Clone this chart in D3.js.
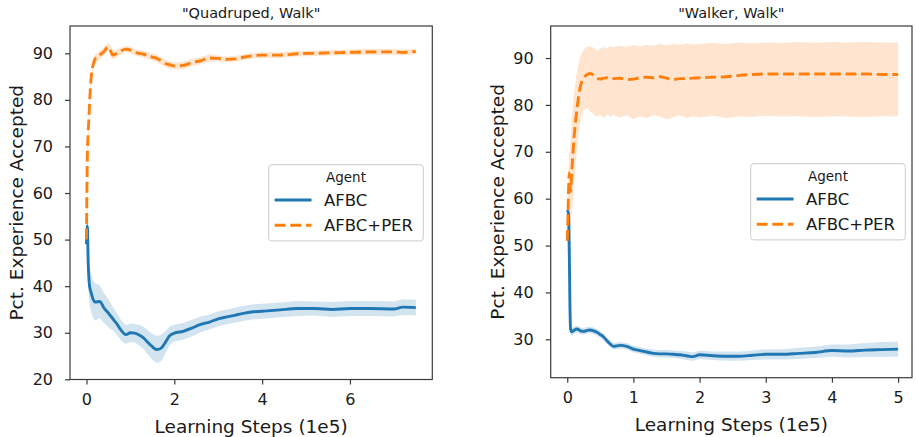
<!DOCTYPE html>
<html>
<head>
<meta charset="utf-8">
<script src="https://cdn.jsdelivr.net/npm/d3@7"></script>
<style>
  html, body { margin: 0; padding: 0; background: #fff; }
  svg { display: block; font-family: "DejaVu Sans", sans-serif; }
</style>
</head>
<body>
<svg id="chart" width="916" height="437"></svg>
<script>
// ---------------- DATA ----------------
const seriesNames = ["AFBC", "AFBC+PER"];
const legendTitle = "Agent";
const panelTitles = ['"Quadruped, Walk"', '"Walker, Walk"'];
const xLabel = "Learning Steps (1e5)";
const yLabel = "Pct. Experience Accepted";

// Quadruped, Walk
const quadX = [0, 0.02, 0.04, 0.06, 0.08, 0.1, 0.15, 0.2, 0.3, 0.4, 0.5, 0.55, 0.6, 0.7, 0.8, 0.9,
  1.0, 1.1, 1.2, 1.3, 1.4, 1.5, 1.6, 1.7, 1.8, 1.9, 2.0, 2.2, 2.4, 2.6, 2.8, 3.0, 3.2, 3.4, 3.6,
  3.8, 4.0, 4.4, 4.8, 5.2, 5.6, 6.0, 6.5, 7.0, 7.2, 7.5];
const quadAFBC = [49, 53, 45, 41, 39.5, 38.8, 37.2, 36.6, 36.7, 35.3, 34.2, 33.6, 33.0, 31.8, 30.4, 29.6,
  30.0, 29.9, 29.5, 28.9, 27.9, 27.0, 26.4, 26.7, 28.0, 29.4, 29.9, 30.3, 31.0, 31.8, 32.3, 33.0, 33.4, 33.8, 34.2,
  34.5, 34.6, 34.9, 35.2, 35.2, 35.0, 35.2, 35.2, 35.1, 35.5, 35.4];
const quadAFBCSpread = [4, 4, 4, 4, 4, 4, 4, 4, 3.5, 3.2, 3.0, 2.8, 2.5, 2.3, 2.2, 2.0,
  2.0, 2.0, 2.2, 2.4, 2.6, 2.8, 2.9, 2.8, 2.4, 2.0, 1.8, 1.8, 1.8, 1.7, 1.6, 1.6, 1.6, 1.6, 1.6,
  1.6, 1.6, 1.6, 1.6, 1.5, 1.6, 1.6, 1.6, 1.6, 1.7, 1.7];
const quadPER = [50, 68, 73, 77, 81, 84, 87.5, 88.8, 89.6, 90.4, 91.4, 90.5, 89.6, 90.0, 90.6, 90.9,
  90.7, 90.2, 90.0, 89.8, 89.5, 89.2, 88.9, 88.4, 87.8, 87.5, 87.3, 87.4, 88.0, 88.4, 89.0, 88.9, 88.7, 88.8, 89.2,
  89.5, 89.6, 89.6, 89.9, 90.0, 90.1, 90.2, 90.3, 90.3, 90.2, 90.4];
const quadPERSpread = [3, 3, 2.5, 2, 1.5, 1.2, 1.0, 1.0, 0.9, 0.9, 0.9, 1.2, 1.0, 0.8, 0.7, 0.7,
  0.7, 0.7, 0.7, 0.7, 0.7, 0.8, 0.8, 0.8, 0.8, 0.8, 0.8, 0.8, 0.8, 0.8, 0.8, 0.6, 0.6, 0.6, 0.6,
  0.6, 0.6, 0.6, 0.6, 0.6, 0.6, 0.6, 0.6, 0.6, 0.6, 0.6];

// Walker, Walk
const walkX = [0, 0.01, 0.02, 0.03, 0.04, 0.05, 0.07, 0.1, 0.15, 0.2, 0.25, 0.3, 0.35, 0.4, 0.45, 0.5,
  0.55, 0.6, 0.65, 0.7, 0.8, 0.9, 1.0, 1.1, 1.2, 1.3, 1.4, 1.5, 1.6, 1.7, 1.8, 1.9, 2.0, 2.2, 2.4,
  2.6, 2.8, 3.0, 3.25, 3.5, 3.75, 4.0, 4.25, 4.5, 4.75, 5.0];
const walkAFBC = [57.2, 57.4, 56.5, 50, 38, 32.2, 31.6, 31.9, 32.2, 31.8, 31.7, 31.9, 32.0, 31.8, 31.5, 31.0,
  30.5, 29.7, 29.0, 28.5, 28.7, 28.5, 27.9, 27.6, 27.3, 27.0, 26.9, 26.9, 26.8, 26.7, 26.5, 26.3, 26.7, 26.5, 26.4,
  26.4, 26.6, 26.8, 26.8, 27.0, 27.2, 27.6, 27.5, 27.7, 27.8, 27.9];
const walkAFBCSpread = [1.2, 1.2, 1.5, 2.5, 2.5, 1.2, 0.8, 0.7, 0.7, 0.7, 0.7, 0.7, 0.7, 0.7, 0.7, 0.7,
  0.7, 0.7, 0.7, 0.7, 0.7, 0.7, 0.7, 0.7, 0.7, 0.8, 0.8, 0.8, 0.8, 0.8, 0.9, 0.9, 0.9, 0.9, 1.0,
  1.0, 1.0, 1.1, 1.1, 1.2, 1.2, 1.3, 1.4, 1.5, 1.6, 1.6];
const walkPER = [51, 56, 62, 65.5, 63, 61.5, 66, 72.5, 79.5, 84, 85.7, 86.5, 86.7, 86.3, 85.7, 85.5,
  85.7, 85.8, 85.7, 85.6, 85.7, 85.4, 85.5, 85.8, 85.9, 85.8, 86.0, 85.7, 85.4, 85.6, 85.6, 85.7, 85.8, 85.9, 86.0,
  86.3, 86.5, 86.6, 86.6, 86.6, 86.6, 86.6, 86.6, 86.6, 86.5, 86.5];
const walkPERUpper = [60, 62, 67, 70, 70, 72, 77, 82, 87.5, 90.5, 91.8, 92.4, 92.5, 92.2, 91.5, 92.0,
  92.3, 92.1, 92.5, 92.3, 92.6, 92.4, 92.7, 92.5, 92.8, 92.6, 93.0, 92.7, 93.0, 92.8, 93.1, 92.9, 93.0, 93.2, 93.0,
  93.3, 93.1, 93.3, 93.2, 93.4, 93.2, 93.4, 93.3, 93.4, 93.3, 93.3];
const walkPERLower = [47, 50, 55, 58, 56, 54, 57, 63, 71, 77, 78.9, 79.3, 78.5, 78.0, 77.5, 77.8,
  77.2, 78.0, 77.4, 77.9, 77.3, 77.8, 77.0, 77.6, 77.2, 77.8, 77.5, 76.9, 77.4, 77.8, 77.2, 77.6, 77.3, 77.7, 77.2,
  77.6, 77.4, 77.7, 77.5, 77.6, 77.4, 77.6, 77.5, 77.4, 77.6, 77.5];

const quadXTicks = [0, 2, 4, 6];
const walkXTicks = [0, 1, 2, 3, 4, 5];
const quadYTicks = [20, 30, 40, 50, 60, 70, 80, 90];
const walkYTicks = [30, 40, 50, 60, 70, 80, 90];

// ---------------- STYLE ----------------
const colors = ["#1f77b4", "#ff7f0e"];
const lineWidth = 2.9;
const dash = "10.9,4.7";
const textColor = "#1a1a1a";
const spineColor = "#3a3a3a";

const panels = [
  {
    title: panelTitles[0],
    box: { x0: 70, x1: 432.3, y0: 26, y1: 379.5 },
    xDomain: [-0.375, 7.875], yDomain: [19.96, 95.86],
    xTicks: quadXTicks, yTicks: quadYTicks,
    yLabelX: 16.5,
    legend: { x: 268.7, y: 164.7 },
    series: [
      { x: quadX, y: quadAFBC, lo: quadAFBC.map((v, i) => v - quadAFBCSpread[i]), hi: quadAFBC.map((v, i) => v + quadAFBCSpread[i]) },
      { x: quadX, y: quadPER, lo: quadPER.map((v, i) => v - quadPERSpread[i]), hi: quadPER.map((v, i) => v + quadPERSpread[i]) }
    ]
  },
  {
    title: panelTitles[1],
    box: { x0: 550.7, x1: 912, y0: 26, y1: 377.7 },
    xDomain: [-0.25, 5.21], yDomain: [21.81, 96.83],
    xTicks: walkXTicks, yTicks: walkYTicks,
    yLabelX: 497.2,
    legend: { x: 750.7, y: 163.7 },
    series: [
      { x: walkX, y: walkAFBC, lo: walkAFBC.map((v, i) => v - walkAFBCSpread[i]), hi: walkAFBC.map((v, i) => v + walkAFBCSpread[i]) },
      { x: walkX, y: walkPER, lo: walkPERLower, hi: walkPERUpper }
    ]
  }
];

const svg = d3.select("#chart");

panels.forEach((p, pi) => {
  const b = p.box;
  const x = d3.scaleLinear().domain(p.xDomain).range([b.x0, b.x1]);
  const y = d3.scaleLinear().domain(p.yDomain).range([b.y1, b.y0]);
  const g = svg.append("g");

  const clipId = "clip" + pi;
  svg.append("clipPath").attr("id", clipId).append("rect")
    .attr("x", b.x0).attr("y", b.y0).attr("width", b.x1 - b.x0).attr("height", b.y1 - b.y0);

  const plot = g.append("g").attr("clip-path", `url(#${clipId})`);

  // bands
  p.series.forEach((s, si) => {
    const pts = s.x.map((xv, i) => ({ x: xv, lo: s.lo[i], hi: s.hi[i] }));
    const area = d3.area().x(d => x(d.x)).y0(d => y(d.lo)).y1(d => y(d.hi)).curve(d3.curveLinear);
    plot.append("path").datum(pts).attr("d", area)
      .attr("fill", colors[si]).attr("fill-opacity", 0.2).attr("stroke", "none");
  });
  // lines
  p.series.forEach((s, si) => {
    const pts = s.x.map((xv, i) => ({ x: xv, y: s.y[i] }));
    const line = d3.line().x(d => x(d.x)).y(d => y(d.y)).curve(d3.curveMonotoneX);
    plot.append("path").datum(pts).attr("d", line)
      .attr("fill", "none").attr("stroke", colors[si]).attr("stroke-width", lineWidth)
      .attr("stroke-dasharray", si === 1 ? dash : null)
      .attr("stroke-linejoin", "round");
  });

  // axes
  const xAxis = d3.axisBottom(x).tickValues(p.xTicks).tickSize(5).tickPadding(8).tickFormat(d3.format("d"));
  const yAxis = d3.axisLeft(y).tickValues(p.yTicks).tickSize(5).tickPadding(12).tickFormat(d3.format("d"));
  const gx = g.append("g").attr("transform", `translate(0,${b.y1})`).call(xAxis);
  const gy = g.append("g").attr("transform", `translate(${b.x0},0)`).call(yAxis);
  [gx, gy].forEach(ax => {
    ax.select(".domain").remove();
    ax.selectAll(".tick line").attr("stroke", spineColor).attr("stroke-width", 1.2);
    ax.selectAll(".tick text").attr("fill", textColor).attr("font-size", 16)
      .attr("font-family", "DejaVu Sans");
  });
  gx.selectAll(".tick text").attr("dy", "0.75em");

  // frame
  g.append("rect").attr("x", b.x0).attr("y", b.y0)
    .attr("width", b.x1 - b.x0).attr("height", b.y1 - b.y0)
    .attr("fill", "none").attr("stroke", spineColor).attr("stroke-width", 1.2);

  // title
  g.append("text").attr("x", (b.x0 + b.x1) / 2).attr("y", 18)
    .attr("text-anchor", "middle").attr("font-size", 14.5).attr("fill", textColor).text(p.title);
  // x label
  g.append("text").attr("x", (b.x0 + b.x1) / 2).attr("y", b.y1 + 53)
    .attr("text-anchor", "middle").attr("font-size", 18.5).attr("fill", textColor).text(xLabel);
  // y label
  g.append("text")
    .attr("transform", `translate(${p.yLabelX},${(b.y0 + b.y1) / 2}) rotate(-90)`)
    .attr("text-anchor", "middle").attr("dy", "0.35em")
    .attr("font-size", 18.5).attr("fill", textColor).text(yLabel);

  // legend
  const L = p.legend;
  const lg = g.append("g").attr("transform", `translate(${L.x},${L.y})`);
  lg.append("rect").attr("width", 154.6).attr("height", 76.2).attr("rx", 3)
    .attr("fill", "#fff").attr("fill-opacity", 0.8).attr("stroke", "#cccccc").attr("stroke-width", 1);
  lg.append("text").attr("x", 77.3).attr("y", 17.5).attr("text-anchor", "middle")
    .attr("font-size", 13.5).attr("fill", textColor).text(legendTitle);
  seriesNames.forEach((name, si) => {
    const ly = 35.3 + si * 25.3;
    lg.append("line").attr("x1", 6).attr("x2", 42.8).attr("y1", ly).attr("y2", ly)
      .attr("stroke", colors[si]).attr("stroke-width", lineWidth)
      .attr("stroke-dasharray", si === 1 ? dash : null);
    lg.append("text").attr("x", 55.3).attr("y", ly).attr("dy", "0.36em")
      .attr("font-size", 16.5).attr("fill", textColor).text(name);
  });
});
</script>
</body>
</html>
